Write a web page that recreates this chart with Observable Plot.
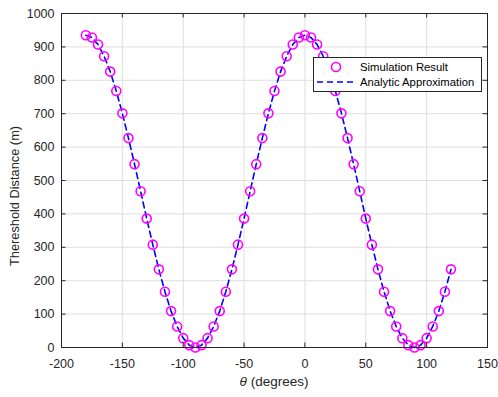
<!DOCTYPE html>
<html><head><meta charset="utf-8">
<script src="https://cdn.jsdelivr.net/npm/d3@7"></script>
<script src="https://cdn.jsdelivr.net/npm/@observablehq/plot@0.6"></script>
<style>html,body{margin:0;background:#fff}svg{display:block}</style>
</head><body><div id="chart"></div>
<script>
const theta = [-180,-175,-170,-165,-160,-155,-150,-145,-140,-135,-130,-125,-120,-115,-110,-105,-100,-95,-90,-85,-80,-75,-70,-65,-60,-55,-50,-45,-40,-35,-30,-25,-20,-15,-10,-5,0,5,10,15,20,25,30,35,40,45,50,55,60,65,70,75,80,85,90,95,100,105,110,115,120];
const simulation = [935,928,907,872,826,768,701,627,549,468,386,308,234,167,109,63,28,7,0,7,28,63,109,167,234,308,386,468,549,627,701,768,826,872,907,928,935,928,907,872,826,768,701,627,549,468,386,308,234,167,109,63,28,7,0,7,28,63,109,167,234];
const analytic = [935,928,907,872,826,768,701,627,549,468,386,308,234,167,109,63,28,7,0,7,28,63,109,167,234,308,386,468,549,627,701,768,826,872,907,928,935,928,907,872,826,768,701,627,549,468,386,308,234,167,109,63,28,7,0,7,28,63,109,167,234];
const xTicks = [-200,-150,-100,-50,0,50,100,150];
const yTicks = [0,100,200,300,400,500,600,700,800,900,1000];
const seriesNames = ["Simulation Result","Analytic Approximation"];
const xLabelSymbol = "θ";
const xLabelRest = " (degrees)";
const yLabel = "Thereshold Distance (m)";

const simData = theta.map((t,i)=>({t, v: simulation[i]}));
const anaData = theta.map((t,i)=>({t, v: analytic[i]}));

const W = 498, H = 397, mL = 61, mR = 11, mT = 13, mB = 50;
const pw = W - mL - mR, ph = H - mT - mB;
const axisColor = "#262626";
const font = "'Liberation Sans', Arial, Helvetica, sans-serif";

const svg = Plot.plot({
  width: W, height: H,
  marginLeft: mL, marginRight: mR, marginTop: mT, marginBottom: mB,
  style: {fontFamily: font, fontSize: "12.5px", color: axisColor, background: "#fff"},
  x: {domain: [-200,150]},
  y: {domain: [0,1000]},
  marks: [
    Plot.gridX(xTicks, {stroke: "#dfdfdf", strokeOpacity: 1}),
    Plot.gridY(yTicks, {stroke: "#dfdfdf", strokeOpacity: 1}),
    Plot.line(anaData, {x: "t", y: "v", stroke: "#0000ff", strokeWidth: 1.6, strokeDasharray: "6,4"}),
    Plot.dot(simData, {x: "t", y: "v", r: 4.5, stroke: "#ff00ff", strokeWidth: 1.6, fill: "none"}),
    Plot.tickY(yTicks, {y: d=>d, insetRight: pw - 4.5, stroke: axisColor}),
    Plot.tickY(yTicks, {y: d=>d, insetLeft: pw - 4.5, stroke: axisColor}),
    Plot.tickX(xTicks, {x: d=>d, insetTop: ph - 4.5, stroke: axisColor}),
    Plot.tickX(xTicks, {x: d=>d, insetBottom: ph - 4.5, stroke: axisColor}),
    Plot.frame({stroke: axisColor}),
    Plot.axisX(xTicks, {tickSize: 0, tickPadding: 12, tickFormat: d=>String(d), label: null, fontSize: 12.5}),
    Plot.axisY(yTicks, {tickSize: 0, tickPadding: 7, tickFormat: d=>String(d), label: null, fontSize: 12.5})
  ]
});

const s = d3.select(svg);
// x label
const xl = s.append("text").attr("x", mL + pw/2).attr("y", 385.5)
  .attr("text-anchor","middle").attr("fill", axisColor)
  .style("font-family", font).style("font-size","13.5px");
xl.append("tspan").attr("font-style","italic").text(xLabelSymbol);
xl.append("tspan").text(xLabelRest);
// y label
s.append("text").attr("transform", `translate(19,196) rotate(-90)`)
  .attr("text-anchor","middle").attr("fill", axisColor)
  .style("font-family", font).style("font-size","12.8px").text(yLabel);
// legend
const lg = s.append("g");
lg.append("rect").attr("x",313.5).attr("y",57.5).attr("width",168).attr("height",34)
  .attr("fill","#fff").attr("stroke",axisColor).attr("stroke-width",1);
lg.append("circle").attr("cx",336).attr("cy",67).attr("r",4.5)
  .attr("fill","none").attr("stroke","#ff00ff").attr("stroke-width",1.6);
lg.append("line").attr("x1",317).attr("x2",356).attr("y1",82).attr("y2",82)
  .attr("stroke","#0000ff").attr("stroke-width",1.6).attr("stroke-dasharray","6,4");
lg.selectAll("text.lt").data(seriesNames).join("text")
  .attr("x",360).attr("y",(d,i)=>67 + i*15).attr("dy","0.35em")
  .attr("text-anchor","start")
  .attr("fill","#000").style("font-family",font).style("font-size","11.3px").text(d=>d);

document.getElementById("chart").appendChild(svg);
</script>
</body></html>
